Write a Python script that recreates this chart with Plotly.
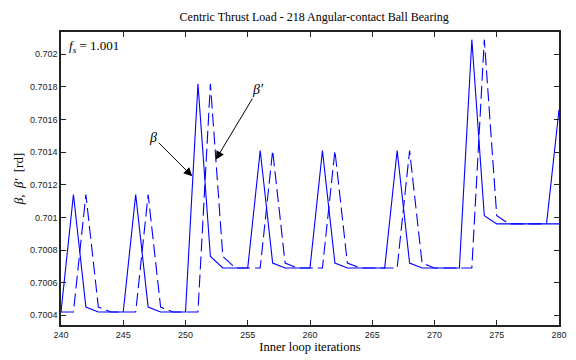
import plotly.graph_objects as go

# ---- data ----
iterations = [240, 241, 242, 243, 244, 245, 246, 247, 248, 249, 250,
              251, 252, 253, 254, 255, 256, 257, 258, 259, 260,
              261, 262, 263, 264, 265, 266, 267, 268, 269, 270,
              271, 272, 273, 274, 275, 276, 277, 278, 279, 280]

beta = [0.70042, 0.70114, 0.70045, 0.70042, 0.70042, 0.70042, 0.70114, 0.70045, 0.70042, 0.70042, 0.70042,
        0.70182, 0.70076, 0.70069, 0.70069, 0.70069, 0.70141, 0.70072, 0.70069, 0.70069, 0.70069,
        0.70141, 0.70072, 0.70069, 0.70069, 0.70069, 0.70069, 0.70141, 0.70072, 0.70069, 0.70069,
        0.70069, 0.70069, 0.70209, 0.70101, 0.70096, 0.70096, 0.70096, 0.70096, 0.70096, 0.70166]

beta_prime = [0.70042, 0.70042, 0.70114, 0.70045, 0.70042, 0.70042, 0.70042, 0.70114, 0.70045, 0.70042, 0.70042,
              0.70042, 0.70182, 0.70076, 0.70069, 0.70069, 0.70069, 0.70141, 0.70072, 0.70069, 0.70069,
              0.70069, 0.70141, 0.70072, 0.70069, 0.70069, 0.70069, 0.70069, 0.70141, 0.70072, 0.70069,
              0.70069, 0.70069, 0.70069, 0.70209, 0.70101, 0.70096, 0.70096, 0.70096, 0.70096, 0.70096]

x_ticks = [240, 245, 250, 255, 260, 265, 270, 275, 280]
y_ticks = [0.7004, 0.7006, 0.7008, 0.701, 0.7012, 0.7014, 0.7016, 0.7018, 0.702]
y_tick_labels = ["0.7004", "0.7006", "0.7008", "0.701", "0.7012", "0.7014", "0.7016", "0.7018", "0.702"]

title_text = "Centric Thrust Load - 218 Angular-contact Ball Bearing"
x_label = "Inner loop iterations"
y_label = "<i>β</i>,  <i>β′</i>  [rd]"
fs_label = "<i>f<sub>s</sub></i> = 1.001"

SERIF = "Liberation Serif, Times New Roman, serif"
SANS = "Liberation Sans, Arial, sans-serif"

fig = go.Figure()
fig.add_trace(go.Scatter(x=iterations, y=beta, mode="lines",
                         line=dict(color="#0000ff", width=1.1), showlegend=False))
fig.add_trace(go.Scatter(x=iterations, y=beta_prime, mode="lines",
                         line=dict(color="#0000ff", width=1.1, dash="13px,5px"), showlegend=False))

axis_common = dict(showline=True, linecolor="#222222", linewidth=1.5, mirror="ticks",
                   ticks="inside", ticklen=5, tickwidth=1, tickcolor="#222222",
                   showgrid=False, zeroline=False,
                   tickfont=dict(family=SANS, size=9, color="#222222"))

fig.update_xaxes(range=[240, 280], tickvals=x_ticks,
                 title=dict(text=x_label, font=dict(family=SERIF, size=12.5, color="black"), standoff=3),
                 **axis_common)
fig.update_yaxes(range=[0.70034, 0.702137], tickvals=y_ticks, ticktext=y_tick_labels,
                 title=dict(text=y_label, font=dict(family=SERIF, size=13, color="black"), standoff=3),
                 **axis_common)

annotations = [
    dict(text=fs_label, xref="paper", yref="paper", x=0.012, y=0.985, showarrow=False,
         font=dict(family=SERIF, size=13, color="black"), xanchor="left", yanchor="top"),
    # labelled arrows: (x, y) is the arrow tip, the text sits at the tail
    dict(text="<i>β</i>", xref="x", yref="y", x=250.54, y=0.701252, ax=-39, ay=-39,
         showarrow=True, arrowhead=2, arrowsize=1.7, arrowwidth=1, arrowcolor="black",
         font=dict(family=SERIF, size=14, color="black")),
    dict(text="<i>β′</i>", xref="x", yref="y", x=252.43, y=0.701354, ax=42, ay=-70,
         showarrow=True, arrowhead=2, arrowsize=1.7, arrowwidth=1, arrowcolor="black",
         font=dict(family=SERIF, size=14, color="black")),
]

fig.update_layout(width=576, height=360, margin=dict(l=61, r=9, t=32, b=34),
                  paper_bgcolor="white", plot_bgcolor="white", annotations=annotations,
                  title=dict(text=title_text, x=0.5454, xanchor="center", y=0.953, yanchor="middle",
                             font=dict(family=SERIF, size=12, color="black")))

fig.write_html("out.html")
